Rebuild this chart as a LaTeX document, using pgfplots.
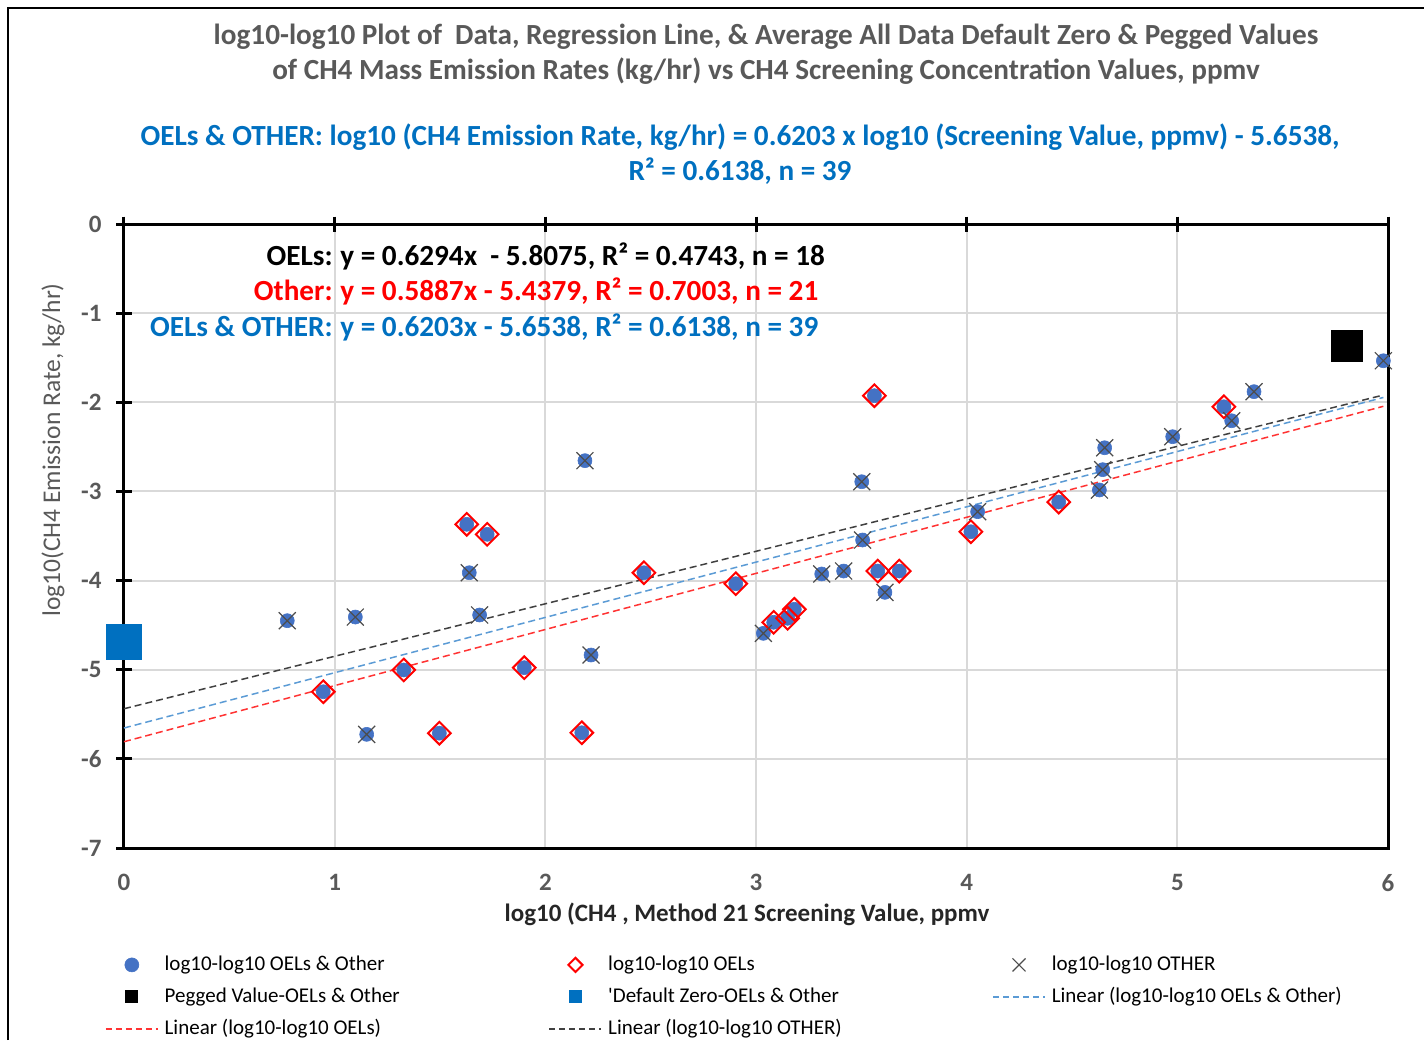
\documentclass[border=0pt]{standalone}
\usepackage{fontspec}
\setmainfont{Carlito}
\usepackage{pgfplots}
\usepackage{pgfplotstable}
\pgfplotsset{compat=1.18}
\definecolor{ttl}{HTML}{595959}
\definecolor{xblue}{HTML}{0070C0}
\definecolor{ptblue}{HTML}{4472C4}
\definecolor{lnblue}{HTML}{5B9BD5}
\definecolor{xred}{HTML}{FF0000}
\definecolor{lnred}{HTML}{FF3333}
\definecolor{lnblack}{HTML}{404040}
\definecolor{grd}{HTML}{D9D9D9}

\pgfplotstableread{
x y
0.946 -5.247
1.328 -5.003
1.497 -5.712
1.627 -3.369
1.724 -3.481
1.900 -4.977
2.173 -5.707
2.468 -3.912
2.904 -4.035
3.084 -4.468
3.150 -4.423
3.182 -4.322
3.562 -1.926
3.578 -3.893
3.680 -3.893
4.020 -3.452
4.437 -3.119
5.221 -2.050
}\oels

\pgfplotstableread{
x y
0.775 -4.450
1.098 -4.409
1.152 -5.725
1.639 -3.912
1.688 -4.386
2.188 -2.655
2.217 -4.835
3.035 -4.592
3.312 -3.926
3.416 -3.893
3.502 -2.891
3.506 -3.545
3.612 -4.132
4.052 -3.227
4.630 -2.984
4.646 -2.756
4.655 -2.510
4.978 -2.386
5.258 -2.207
5.364 -1.881
5.978 -1.534
}\others

\pgfplotsset{
  mlegend/.style={legend image code/.code={\path (0pt,0pt) (26pt,0pt); \draw[##1] plot coordinates {(13pt,0pt)};}},
  xlegend/.style={legend image code/.code={\path (0pt,0pt) (26pt,0pt); \draw[##1, mark size=4.6pt] plot coordinates {(13pt,0pt)};}},
  dlegend/.style={legend image code/.code={\path (0pt,0pt) (26pt,0pt); \draw[##1, mark size=2.5pt] plot coordinates {(13pt,0pt)};}},
  sqlegend/.style={legend image code/.code={\path (0pt,0pt) (26pt,0pt); \draw[##1, mark size=3pt] plot coordinates {(13pt,0pt)};}},
  llegend/.style={legend image code/.code={\path[draw=#1, line width=0.8pt, dash pattern=on 3pt off 2pt] (0pt,0pt) -- (26pt,0pt);}},
}

\begin{document}
\begin{tikzpicture}
\begin{axis}[
  at={(0pt,0pt)}, anchor=south west,
  scale only axis, width=632pt, height=312pt,
  xmin=0, xmax=6, ymin=-7, ymax=0,
  xtick={0,1,2,3,4,5,6}, ytick={-7,-6,-5,-4,-3,-2,-1,0},
  xticklabels={0,1,2,3,4,5,6}, yticklabels={-7,-6,-5,-4,-3,-2,-1,0},
  xtick pos=right, xticklabel pos=left, ytick pos=left, yticklabel pos=left,
  tick align=center, major tick length=7.5pt,
  tick style={black, line width=1.5pt},
  axis line style={black, line width=1.5pt},
  grid=major, major grid style={grd, line width=1pt},
  ticklabel style={font=\fontsize{12.5}{15}\selectfont\bfseries, text=ttl},
  xticklabel style={yshift=-6pt},
  yticklabel style={xshift=-4pt},
  clip=false,
  legend columns=3,
  legend cell align=left,
  legend style={at={(axis description cs:-0.015,-0.1705)}, anchor=north west, draw=white, line width=0pt, fill=none,
    inner sep=0pt, font=\fontsize{10.5}{12}\selectfont, column sep=0pt, row sep=5.5pt,
    nodes={inner xsep=3pt, inner ysep=0pt, text height=8pt, text depth=2.5pt}},
]
\addplot[only marks, mark=*, mark size=3.5pt, mark options={fill=ptblue, draw=ptblue, line width=0.3pt}, mlegend] table {\oels};
\addlegendentry{\makebox[189pt][l]{log10-log10 OELs \& Other}}
\addplot[only marks, mark=*, mark size=3.5pt, mark options={fill=ptblue, draw=ptblue, line width=0.3pt}, forget plot] table {\others};
\addplot[only marks, mark=square, mark size=4pt, mark options={rotate=45, draw=xred, line width=1pt, fill=none}, dlegend] table {\oels};
\addlegendentry{\makebox[189pt][l]{log10-log10 OELs}}
\addplot[only marks, mark=x, mark size=6pt, mark options={draw=black!70, line width=0.6pt}, xlegend] table {\others};
\addlegendentry{\makebox[189pt][l]{log10-log10 OTHER}}
\addplot[only marks, mark=square*, mark size=7.75pt, mark options={fill=black, draw=black}, sqlegend] coordinates {(5.806,-1.363)};
\addlegendentry{\makebox[189pt][l]{Pegged Value-OELs \& Other}}
\addplot[only marks, mark=square*, mark size=8.75pt, mark options={fill=xblue, draw=xblue}, sqlegend] coordinates {(0,-4.684)};
\addlegendentry{\makebox[189pt][l]{\textquotesingle Default Zero-OELs \& Other}}
\addplot[draw=lnblue, line width=0.75pt, dash pattern=on 3.5pt off 2pt, llegend=lnblue] coordinates {(0,-5.6538) (5.978,-1.9457)};
\addlegendentry{\makebox[189pt][l]{Linear (log10-log10 OELs \& Other)}}
\addplot[draw=lnred, line width=0.75pt, dash pattern=on 3.5pt off 2pt, llegend=lnred] coordinates {(0,-5.8075) (5.978,-2.0449)};
\addlegendentry{\makebox[189pt][l]{Linear (log10-log10 OELs)}}
\addplot[draw=lnblack, line width=0.75pt, dash pattern=on 3.5pt off 2pt, llegend=lnblack] coordinates {(0,-5.4379) (5.978,-1.9187)};
\addlegendentry{\makebox[189pt][l]{Linear (log10-log10 OTHER)}}
\end{axis}
% titles
\node[anchor=base, inner sep=0pt, font=\fontsize{14.6}{17}\selectfont\bfseries, text=ttl] at (321pt,401.75pt) {log10-log10 Plot of\ \ Data, Regression Line, \& Average All Data\ Default Zero \& Pegged Values};
\node[anchor=base, inner sep=0pt, font=\fontsize{14.6}{17}\selectfont\bfseries, text=ttl] at (321pt,384.25pt) {of CH4\ Mass Emission Rates (kg/hr) vs CH4 Screening Concentration Values, ppmv};
\node[anchor=base, inner sep=0pt, font=\fontsize{14.6}{17}\selectfont\bfseries, text=xblue] at (308pt,351pt) {OELs \& OTHER: log10 (CH4 Emission Rate, kg/hr) = 0.6203 x log10 (Screening Value, ppmv) - 5.6538,};
\node[anchor=base, inner sep=0pt, font=\fontsize{14.6}{17}\selectfont\bfseries, text=xblue] at (308pt,333.5pt) {R² = 0.6138, n = 39};
% annotations
\node[anchor=base east, inner sep=0pt, font=\fontsize{14.6}{17}\selectfont\bfseries, text=black] at (104.5pt,291.25pt) {OELs:};
\node[anchor=base west, inner sep=0pt, font=\fontsize{14.6}{17}\selectfont\bfseries, text=black] at (108pt,291.25pt) {y = 0.6294x\ \ - 5.8075, R² = 0.4743, n = 18};
\node[anchor=base east, inner sep=0pt, font=\fontsize{14.6}{17}\selectfont\bfseries, text=xred] at (104.5pt,273.75pt) {Other:};
\node[anchor=base west, inner sep=0pt, font=\fontsize{14.6}{17}\selectfont\bfseries, text=xred] at (108pt,273.75pt) {y = 0.5887x - 5.4379, R² = 0.7003, n = 21};
\node[anchor=base east, inner sep=0pt, font=\fontsize{14.6}{17}\selectfont\bfseries, text=xblue] at (104.5pt,255.75pt) {OELs \& OTHER:};
\node[anchor=base west, inner sep=0pt, font=\fontsize{14.6}{17}\selectfont\bfseries, text=xblue] at (108pt,255.75pt) {y = 0.6203x - 5.6538, R² = 0.6138, n = 39};
% axis labels
\node[anchor=base, inner sep=0pt, font=\fontsize{12.5}{15}\selectfont\bfseries, text=black!85] at (311.5pt,-36.5pt) {log10 (CH4 , Method 21 Screening Value, ppmv};
\node[rotate=90, anchor=base, inner sep=0pt, font=\fontsize{12.75}{15}\selectfont, text=ttl] at (-32pt,199pt) {log10(CH4 Emission Rate, kg/hr)};
% outer frame
\draw[line width=1pt, black] (-58pt,-96pt) -- (-58pt,420pt) -- (650pt,420pt);
\pgfresetboundingbox
\path (-62pt,-96pt) rectangle (650pt,424pt);
\end{tikzpicture}
\end{document}
